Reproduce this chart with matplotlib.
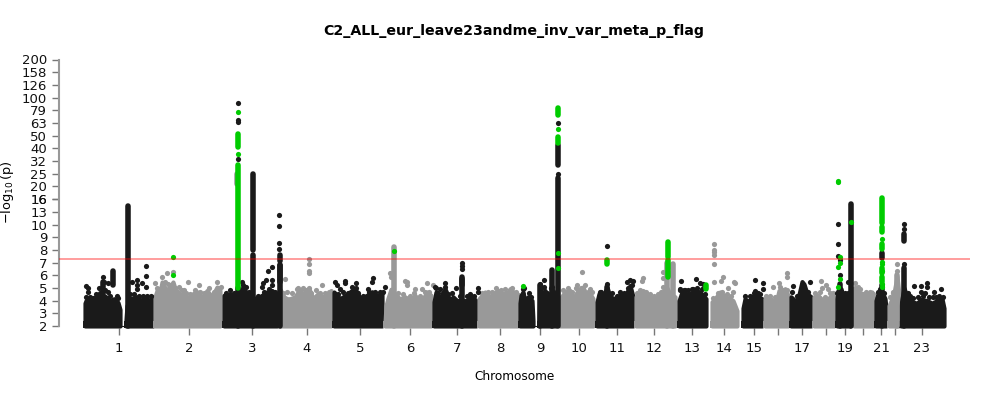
import numpy as np
import matplotlib
matplotlib.use('Agg')
import matplotlib.pyplot as plt

# upper outline of the dense cloud, one pair of lists per stretch of chromosome
chr1a_pos = [85, 86, 88, 91, 96, 101, 106, 110, 114, 118, 120]
chr1a_top = [3.8, 4.0, 4.15, 4.05, 4.3, 4.5, 4.3, 4.0, 4.15, 3.85, 3.3]
chr1b_pos = [126, 127, 130, 137, 140, 145, 150, 153]
chr1b_top = [2.5, 3.6, 4.15, 4.3, 4.05, 4.15, 4.05, 4.3]
chr2_pos = [155, 157, 160, 162, 165, 170, 173, 176, 180, 184, 188, 193, 198, 202, 207, 212, 217, 220]
chr2_top = [4.3, 4.8, 4.68, 5.47, 4.8, 5.07, 5.47, 4.68, 4.42, 4.68, 4.15, 4.55, 4.68, 4.2, 4.8, 4.3, 5.07, 4.8]
chr3_pos = [224, 227, 230, 235, 240, 247, 250, 257, 262, 267, 272, 277]
chr3_top = [4.42, 4.3, 4.55, 4.42, 4.9, 4.68, 4.3, 4.15, 4.42, 4.68, 4.8, 4.42]
chr4_pos = [280, 284, 287, 290, 295, 298, 303, 309, 313, 318, 323, 328, 331]
chr4_top = [4.9, 4.3, 4.15, 4.15, 4.3, 4.68, 4.55, 4.94, 4.15, 4.55, 4.3, 4.42, 4.8]
chr5_pos = [334, 340, 345, 352, 357, 360, 367, 372, 377, 382]
chr5_top = [4.68, 4.15, 4.4, 4.8, 4.7, 4.15, 4.42, 4.7, 4.42, 4.55]
chr6_pos = [385, 386, 388, 391, 396, 400, 405, 408, 412, 415, 418, 423, 427, 431]
chr6_top = [2.2, 3.6, 4.2, 4.9, 4.4, 4.15, 4.3, 4.15, 4.05, 4.42, 4.05, 4.15, 4.68, 4.42]
chr7_pos = [434, 436, 440, 445, 450, 453, 457, 467, 472, 476]
chr7_top = [3.9, 4.68, 4.15, 4.94, 4.0, 4.3, 4.0, 4.0, 4.3, 4.0]
chr8_pos = [479, 485, 490, 493, 498, 503, 508, 510, 515, 518]
chr8_top = [4.15, 4.68, 4.3, 4.55, 4.8, 4.55, 4.68, 4.94, 4.55, 4.5]
chr9a_pos = [520, 521, 523, 525, 528, 532, 533]
chr9a_top = [3.8, 4.42, 4.68, 3.9, 4.3, 4.0, 2.4]
chr9b_pos = [539, 540, 542, 545, 548, 553, 556]
chr9b_top = [2.3, 5.2, 4.3, 4.8, 4.3, 4.8, 4.3]
chr10_pos = [560, 565, 570, 573, 578, 583, 587, 590, 593]
chr10_top = [4.15, 4.68, 4.8, 4.15, 4.8, 5.07, 4.3, 4.55, 4.15]
chr11_pos = [597, 599, 603, 607, 610, 615, 622, 625, 630, 633]
chr11_top = [3.9, 4.55, 4.3, 5.07, 4.3, 4.15, 4.55, 4.3, 5.2, 4.3]
chr12_pos = [636, 638, 643, 648, 652, 656, 660, 664, 667, 670, 675]
chr12_top = [4.3, 4.55, 4.8, 4.42, 4.15, 4.15, 4.42, 4.8, 5.0, 4.5, 4.3]
chr13_pos = [679, 682, 685, 690, 695, 700, 706]
chr13_top = [4.0, 4.68, 4.55, 4.55, 4.8, 4.68, 4.15]
chr14_pos = [712, 715, 720, 725, 730, 733, 737]
chr14_top = [3.9, 4.15, 4.68, 4.3, 4.15, 4.0, 3.2]
chr15_pos = [743, 745, 748, 752, 755, 758, 762]
chr15_top = [3.4, 4.15, 3.9, 4.3, 4.42, 4.3, 4.15]
chr16_pos = [765, 768, 773, 777, 779, 782, 785, 788]
chr16_top = [4.15, 4.3, 4.0, 4.15, 4.8, 4.55, 4.94, 4.42]
chr17_pos = [791, 795, 798, 802, 804, 807, 811]
chr17_top = [4.3, 4.0, 4.15, 5.5, 5.3, 4.55, 4.3]
chr18_pos = [814, 818, 823, 828, 832, 834]
chr18_top = [4.3, 4.42, 4.0, 4.15, 4.42, 4.3]
chr19_pos = [837, 838, 841, 843, 847, 850]
chr19_top = [4.15, 4.8, 4.94, 4.42, 4.3, 4.55]
chr20_pos = [854, 858, 863, 868, 872, 874]
chr20_top = [4.94, 4.68, 4.55, 4.42, 4.68, 4.15]
chr21_pos = [876, 878, 882, 885, 886]
chr21_top = [4.0, 4.55, 4.68, 4.15, 3.4]
chr22_pos = [889, 892, 894, 897, 899]
chr22_top = [3.6, 4.15, 4.6, 5.9, 4.5]
chr23_pos = [901, 902, 904, 907, 912, 917, 921, 927, 932, 937, 942, 944]
chr23_top = [3.6, 4.15, 5.0, 4.3, 3.9, 3.8, 4.1, 4.0, 3.8, 4.0, 4.15, 3.4]

black_parts = [(chr1a_pos, chr1a_top), (chr1b_pos, chr1b_top), (chr3_pos, chr3_top), (chr5_pos, chr5_top),
               (chr7_pos, chr7_top), (chr9a_pos, chr9a_top), (chr9b_pos, chr9b_top), (chr11_pos, chr11_top),
               (chr13_pos, chr13_top), (chr15_pos, chr15_top), (chr17_pos, chr17_top), (chr19_pos, chr19_top),
               (chr21_pos, chr21_top), (chr23_pos, chr23_top)]
gray_parts = [(chr2_pos, chr2_top), (chr4_pos, chr4_top), (chr6_pos, chr6_top), (chr8_pos, chr8_top),
              (chr10_pos, chr10_top), (chr12_pos, chr12_top), (chr14_pos, chr14_top), (chr16_pos, chr16_top),
              (chr18_pos, chr18_top), (chr20_pos, chr20_top), (chr22_pos, chr22_top)]

# solid runs of SNPs at a locus
black_col_pos = [128, 237.5, 252.7, 252.7, 279.5, 279.5, 462.3, 462.3, 552.4, 558.3, 558.3, 607, 840, 851, 881.7, 881.7,
                 904, 904, 113.3, 103, 540, 280]
black_col_low = [2, 2, 2, 8.0, 2, 7.1, 2, 5.2, 2, 2, 29.6, 2, 2, 2, 2, 7.36, 2, 8.7, 5.2, 4.5, 2, 5.5]
black_col_high = [14.1, 5, 7.6, 25, 6.8, 7.6, 5.7, 5.9, 6.4, 23.2, 42.2, 5.1, 5.3, 14.4, 5.2, 7.75, 6.57, 9.25, 6.36, 5.5, 5.2, 6.8]
gray_col_pos = [394, 666.5, 673.3, 897.3, 237]
gray_col_low = [2, 2, 2, 2, 21]
gray_col_high = [8.2, 7.0, 6.9, 6.0, 25]
green_col_pos = [237.5, 237.5, 667.7, 667.7, 667.7, 881.7, 881.7, 881.7, 881.7, 881.7, 558.3, 705.7, 558.3, 607.3]
green_col_low = [5.0, 40.7, 7.4, 6.5, 5.9, 10.2, 9.4, 8.07, 6.18, 5.47, 43.9, 4.9, 72.9, 6.9]
green_col_high = [29.5, 51.6, 8.6, 7.2, 6.3, 16.2, 9.8, 8.46, 6.57, 5.86, 49, 5.25, 82.2, 7.2]

# single points
black_pos = [85.7, 88, 88, 98.5, 103, 104, 108, 108, 137, 132, 136.5, 136.5, 142, 146, 146, 146,
             237.5, 237.5, 237.5, 237.5, 241.7, 243, 246, 261.7, 263, 265.7, 267.7, 272.3, 271.7, 271.7, 279.4, 279.4, 279.4, 279.4,
             335, 336.7, 340, 345, 345, 351.7, 355.7, 355.7, 371.7, 373.3, 368.3, 385, 382.7,
             462.3, 462.3, 462.3, 435.7, 440, 445, 445, 455.7, 478.3, 478.3,
             552.4, 544.3, 544.3, 558.3, 558.3, 600.7, 607.3, 630, 626.7, 633.3,
             680.7, 680, 685, 693, 696, 700, 703, 755, 755, 758, 762.7, 762.7,
             792.7, 810.3, 838.3, 838.3, 838.3, 840, 840, 848.3,
             904, 904, 904, 914, 920.7, 920.7, 926.7, 926.7, 934, 941,
             86, 90, 93, 96, 100, 105, 110, 117, 118, 130, 134, 139, 143, 147, 151,
             226, 230, 234, 243, 249, 258, 264, 269, 275,
             338, 343, 348, 354, 358, 363, 369, 375, 380,
             435, 438, 443, 448, 452, 460, 467, 470, 474,
             524, 522.7, 529, 531, 539.5, 541, 543, 547, 551,
             600, 604, 607, 612, 617, 620, 624, 628, 632,
             680, 684, 688, 692, 697, 702, 705,
             745, 750, 754, 757, 760, 792, 797, 800, 808,
             837, 845, 848, 878, 880, 884,
             908, 910, 913, 918, 923, 925, 929, 933, 936, 939, 943]
black_val = [5.15, 5.02, 4.65, 5.02, 5.89, 5.5, 5.36, 4.7, 5.6, 5.5, 5.23, 4.9, 5.4, 6.73, 5.94, 5.1,
             91.5, 66.5, 64, 33, 5.5, 5.2, 5.05, 5.1, 5.4, 5.6, 6.3, 6.65, 5.6, 5.2, 11.9, 9.9, 8.54, 8.04,
             5.5, 5.23, 4.9, 5.57, 5.35, 5.1, 5.42, 4.97, 5.5, 5.8, 4.9, 5.1, 4.7,
             7.0, 6.73, 6.5, 5.0, 4.9, 5.35, 5.05, 5.0, 5.0, 4.7,
             5.1, 5.6, 5.1, 63.4, 25, 4.7, 8.3, 5.6, 5.5, 5.57,
             5.52, 4.8, 4.8, 4.9, 5.7, 5.4, 5.3, 5.63, 4.76, 4.6, 5.35, 4.9,
             5.15, 5.5, 10.1, 8.5, 7.54, 7.2, 6.0, 5.5,
             10.1, 9.67, 6.9, 5.15, 5.15, 4.65, 5.4, 5.05, 4.7, 4.95,
             4.3, 4.3, 4.2, 4.5, 4.6, 4.8, 4.4, 4.4, 4.2, 4.5, 4.5, 4.4, 4.4, 4.4, 4.4,
             4.6, 4.8, 4.6, 5.0, 4.7, 4.4, 4.7, 4.9, 4.7,
             4.5, 4.7, 4.6, 4.9, 4.6, 4.4, 4.7, 4.7, 4.7,
             5.1, 4.6, 4.6, 4.5, 4.6, 4.4, 4.4, 4.5, 4.4,
             5.0, 4.9, 4.6, 4.3, 5.3, 5.0, 4.6, 4.6, 5.0,
             4.7, 4.5, 5.3, 4.6, 4.4, 4.7, 4.6, 5.0, 5.2,
             4.9, 4.8, 4.8, 4.9, 5.0, 4.9, 4.5,
             4.4, 4.4, 4.6, 4.6, 4.5, 4.7, 4.4, 4.5, 4.7,
             4.6, 4.6, 4.6, 4.7, 4.9, 4.6,
             4.6, 4.4, 4.2, 4.3, 4.4, 4.6, 4.3, 4.3, 4.3, 4.4, 4.3]
gray_pos = [155, 161.7, 167.3, 172.7, 165, 188, 198.5, 217, 221, 184.3, 178.5, 285, 287.3,
            309, 309, 309, 309, 309, 298, 303, 321.7, 390, 391, 405, 407.3, 406.7, 415, 422, 427.3, 433,
            577.3, 582.3, 590, 663.3, 663.3, 663.3, 643.3, 642,
            714.3, 714.3, 714.3, 714.3, 714.3, 714.3, 720.7, 722.7, 728.3, 734.3, 735, 733.3,
            773.3, 786.7, 786.7, 779, 820.7, 821.7, 826, 828.3, 855, 858.3, 897.3, 897.3, 893.3,
            157, 160, 164, 168, 171, 175, 178, 182, 186, 190, 195, 200, 204, 209, 214, 218,
            283, 292, 297, 301, 306, 311, 316, 320, 325, 329,
            398, 403, 410, 414, 420, 425, 429,
            482, 488, 492, 496, 501, 505, 512, 516,
            563, 568, 572, 576, 581, 585, 588, 592,
            637, 640, 646, 650, 654, 658, 661,
            713, 718, 722, 727, 731,
            766, 770, 775, 780, 783, 787,
            815, 820, 825, 830, 833,
            855, 860, 866, 870, 873, 890, 893]
gray_val = [5.36, 5.9, 6.15, 6.28, 5.5, 5.45, 5.2, 5.5, 5.1, 4.84, 5.1, 5.68, 4.7,
            7.28, 6.9, 6.36, 6.2, 5.0, 5.0, 5.0, 5.2, 6.15, 5.9, 5.57, 5.5, 5.23, 4.9, 4.9, 5.4, 5.2,
            5.23, 6.26, 4.9, 6.23, 5.8, 5.1, 5.75, 5.55,
            8.46, 8.0, 7.8, 7.6, 6.9, 5.44, 5.55, 5.9, 4.97, 5.5, 5.4, 4.65,
            5.05, 6.15, 5.85, 5.4, 5.57, 4.97, 5.23, 4.9, 5.35, 5.1, 6.89, 6.33, 4.65,
            5.0, 4.9, 5.1, 5.3, 5.2, 5.0, 4.7, 4.8, 4.6, 4.5, 4.8, 4.7, 4.6, 5.0, 4.7, 5.0,
            4.6, 4.6, 4.9, 4.8, 4.8, 4.6, 4.8, 4.6, 4.6, 4.7,
            4.6, 4.5, 4.4, 4.6, 4.4, 4.7, 4.7,
            4.6, 4.7, 4.7, 5.0, 4.8, 4.9, 5.0, 4.7,
            4.8, 5.0, 4.7, 5.0, 5.0, 5.2, 4.7, 4.7,
            4.6, 4.8, 4.7, 4.5, 4.4, 4.5, 4.7,
            4.2, 4.6, 4.7, 4.5, 4.4,
            4.4, 4.4, 4.3, 5.1, 4.8, 4.8,
            4.6, 4.7, 4.3, 4.6, 4.6,
            5.0, 4.9, 4.7, 4.7, 4.5, 4.3, 4.6]
green_pos = [172.7, 172.7, 237.5, 237.5, 394, 522.7, 558.3, 558.3, 558.3, 851,
             838.3, 838.3, 838.3, 840, 840, 840, 838.3,
             881.7, 881.7, 881.7, 881.7, 881.7, 881.7]
green_val = [7.46, 6.0, 77.4, 35.9, 7.95, 5.18, 56.3, 7.78, 6.57, 10.5,
             21.5, 22, 6.63, 7.46, 6.94, 5.68, 5.05,
             8.86, 7.04, 5.07, 5.3, 6.9, 6.3]

# joins between the two arms of chromosomes 1 and 9
gap_start = [120, 533]
gap_end = [126, 539]

threshold = 7.3

chrom_ticks = [119, 189, 252, 307, 360, 410, 457, 500, 540, 579, 617, 654, 692, 724, 754,
               778, 802, 826, 845, 863, 881, 895, 922]
chrom_labels = ['1', '2', '3', '4', '5', '6', '7', '8', '9', '10', '11', '12', '13', '14', '15',
                '', '17', '', '19', '', '21', '', '23']

y_ticks = [2, 3, 4, 5, 6, 7, 8, 9, 10, 12.59, 15.85, 16, 19.95, 25.12, 31.62, 39.81, 50.12, 63.1, 79.43, 100, 125.89, 158.49, 200]
y_labels = ['2', '3', '4', '5', '6', '7', '8', '9', '10', '13', '16', '16', '20', '25', '32', '40', '50', '63', '79', '100', '126', '158', '200']


# linear up to 10, log above it
def forward(y):
    y = np.asarray(y, dtype=float)
    return np.where(y <= 10, y, 10 + 10 * np.log10(np.maximum(y, 10) / 10))


def inverse(t):
    t = np.asarray(t, dtype=float)
    return np.where(t <= 10, t, 10 * 10 ** ((t - 10) / 10))


BLACK = '#1a1a1a'
GRAY = '#999999'
GREEN = '#00cc00'

fig = plt.figure(figsize=(10, 4), dpi=100)
ax = fig.add_axes([0.059, 1 - 328 / 400, 0.911, (328 - 59.5) / 400])
ax.set_yscale('function', functions=(forward, inverse))

parts = [(p, t, BLACK) for p, t in black_parts] + [(p, t, GRAY) for p, t in gray_parts]
parts.sort(key=lambda r: r[0][0])
for pos, top, color in parts:
    ax.fill_between(pos, 2, top, color=color, lw=3, joinstyle='round', clip_on=False, zorder=2)
    # square off the foot of the cloud
    ax.fill_between([pos[0] - 2, pos[-1] + 2], 1.84, 2.4, color=color, lw=0, zorder=2)

ax.hlines([2] * len(gap_start), gap_start, gap_end, color=BLACK, lw=0.8, zorder=1, clip_on=False)

ax.vlines(gray_col_pos, gray_col_low, gray_col_high, color=GRAY, lw=4, capstyle='round', zorder=3, clip_on=False)
ax.scatter(gray_pos, gray_val, s=14, color=GRAY, linewidths=0, zorder=3)
ax.vlines(black_col_pos, black_col_low, black_col_high, color=BLACK, lw=4, capstyle='round', zorder=4, clip_on=False)
ax.scatter(black_pos, black_val, s=14, color=BLACK, linewidths=0, zorder=4)
ax.vlines(green_col_pos, green_col_low, green_col_high, color=GREEN, lw=4, capstyle='round', zorder=5)
ax.scatter(green_pos, green_val, s=14, color=GREEN, linewidths=0, zorder=5)

ax.axhline(threshold, color='red', alpha=0.45, lw=1.2, zorder=6)

ax.set_xlim(59, 970)
ax.set_ylim(1.84, 200)
ax.set_yticks(y_ticks)
ax.set_yticklabels(y_labels, fontsize=9.5)
ax.minorticks_off()
ax.set_xticks(chrom_ticks)
ax.set_xticklabels(chrom_labels, fontsize=9.5)
ax.tick_params(axis='both', color='#777777', length=5, width=1, labelcolor='#111111')
ax.tick_params(axis='x', pad=5)

ax.spines['top'].set_visible(False)
ax.spines['right'].set_visible(False)
ax.spines['bottom'].set_visible(False)
ax.spines['left'].set_color('#999999')
ax.spines['left'].set_linewidth(1.5)
ax.spines['left'].set_bounds(2, 200)

fig.text(0.514, 0.9225, 'C2_ALL_eur_leave23andme_inv_var_meta_p_flag', ha='center', va='center', fontsize=10.2, fontweight='bold')
fig.text(0.5145, 0.0575, 'Chromosome', ha='center', va='center', fontsize=8.7)
fig.text(0.0075, 0.52, r'$-\log_{10}(\mathrm{p})$', rotation=90, ha='center', va='center', fontsize=9.3)

plt.savefig('out.png', dpi=100)
